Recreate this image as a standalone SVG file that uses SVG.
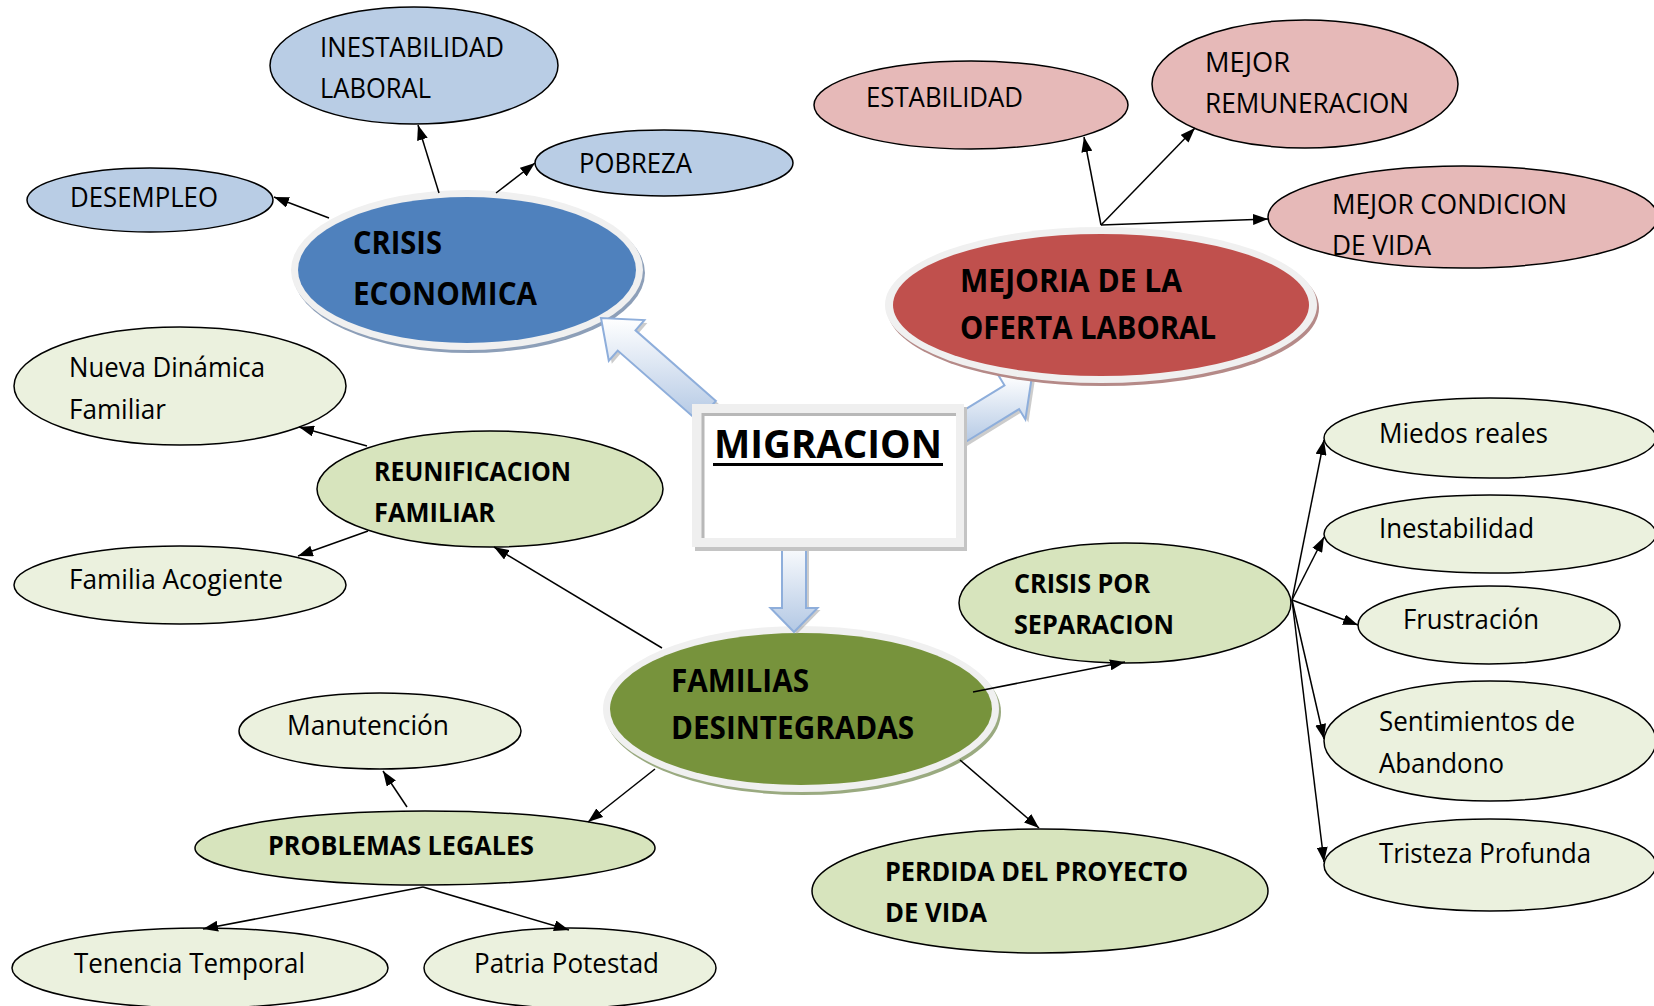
<svg xmlns="http://www.w3.org/2000/svg" width="1654" height="1006" viewBox="0 0 1654 1006">
<defs>
<style>
.t{font-family:"Open Sans","Noto Sans","DejaVu Sans",sans-serif;font-size:26.8px;fill:#000}
.b{font-weight:bold}
.big{font-size:31.3px;font-weight:bold}
.e{stroke:#000;stroke-width:1.5}
.lb{fill:#b9cde5}
.pk{fill:#e6b9b8}
.g2{fill:#d7e4bd}
.g3{fill:#ebf1de}
.rim{fill:#f0f0f0}
.con{stroke:#000;stroke-width:1.5;fill:none;marker-end:url(#ah)}
.blk{fill:url(#bg);stroke:#8eaedb;stroke-width:2}
.blksh{fill:#9a9a9a;opacity:0.5}
</style>
<marker id="ah" markerUnits="userSpaceOnUse" markerWidth="15" markerHeight="11" refX="15" refY="5.5" orient="auto"><path d="M0,0 L15,5.5 L0,11 z" fill="#000"/></marker>
<linearGradient id="bg" x1="0" y1="0" x2="0" y2="1"><stop offset="0" stop-color="#ffffff"/><stop offset="1" stop-color="#b3c8e4"/></linearGradient>
</defs>
<rect width="1654" height="1006" fill="#fff"/>

<g id="inestabilidad-laboral"><ellipse class="e lb" cx="414" cy="65.5" rx="144" ry="58.5"/><text class="t" x="320" y="57" textLength="184" lengthAdjust="spacingAndGlyphs">INESTABILIDAD</text><text class="t" x="320" y="98" textLength="111" lengthAdjust="spacingAndGlyphs">LABORAL</text></g>
<g id="pobreza"><ellipse class="e lb" cx="664" cy="163" rx="129" ry="33"/><text class="t" x="579" y="173" textLength="113" lengthAdjust="spacingAndGlyphs">POBREZA</text></g>
<g id="desempleo"><ellipse class="e lb" cx="150" cy="200" rx="123" ry="32"/><text class="t" x="70" y="207" textLength="148" lengthAdjust="spacingAndGlyphs">DESEMPLEO</text></g>
<g id="crisis-economica"><ellipse cx="469" cy="273" rx="176" ry="80" fill="#8d9fb8"/><ellipse class="rim" cx="467" cy="270" rx="176" ry="80"/><ellipse cx="467" cy="270" rx="169" ry="73" fill="#4f81bd"/><text class="t big" x="353" y="254" textLength="89" lengthAdjust="spacingAndGlyphs">CRISIS</text><text class="t big" x="353" y="305" textLength="184" lengthAdjust="spacingAndGlyphs">ECONOMICA</text></g>

<g id="estabilidad"><ellipse class="e pk" cx="971" cy="105" rx="157" ry="44"/><text class="t" x="866" y="107" textLength="157" lengthAdjust="spacingAndGlyphs">ESTABILIDAD</text></g>
<g id="mejor-remuneracion"><ellipse class="e pk" cx="1305" cy="84" rx="153" ry="64"/><text class="t" x="1205" y="72" textLength="85" lengthAdjust="spacingAndGlyphs">MEJOR</text><text class="t" x="1205" y="113" textLength="204" lengthAdjust="spacingAndGlyphs">REMUNERACION</text></g>
<g id="mejor-condicion"><ellipse class="e pk" cx="1463" cy="217" rx="195" ry="51"/><text class="t" x="1332" y="214" textLength="235" lengthAdjust="spacingAndGlyphs">MEJOR CONDICION</text><text class="t" x="1332" y="255" textLength="99" lengthAdjust="spacingAndGlyphs">DE VIDA</text></g>

<g id="block-arrow-mejoria">
<polygon class="blksh" transform="translate(3,3)" points="962.3,444 1019.1,409.1 1025.4,419.4 1032,376 998.2,375 1004.5,385.3 947.7,420.1"/>
<polygon class="blk" points="962.3,444 1019.1,409.1 1025.4,419.4 1032,376 998.2,375 1004.5,385.3 947.7,420.1"/>
</g>
<g id="mejoria-oferta-laboral"><ellipse cx="1103" cy="308" rx="216" ry="78" fill="#b58a88"/><ellipse class="rim" cx="1101" cy="305" rx="216" ry="78"/><ellipse cx="1101" cy="305" rx="208" ry="71" fill="#c0504d"/><text class="t big" x="960" y="292" textLength="222" lengthAdjust="spacingAndGlyphs">MEJORIA DE LA</text><text class="t big" x="960" y="339" textLength="256" lengthAdjust="spacingAndGlyphs">OFERTA LABORAL</text></g>

<g id="nueva-dinamica"><ellipse class="e g3" cx="180" cy="386" rx="166" ry="59"/><text class="t" x="69" y="377" textLength="196" lengthAdjust="spacingAndGlyphs">Nueva Dinámica</text><text class="t" x="69" y="419" textLength="97" lengthAdjust="spacingAndGlyphs">Familiar</text></g>
<g id="reunificacion-familiar"><ellipse class="e g2" cx="490" cy="489" rx="173" ry="58"/><text class="t b" x="374" y="481" textLength="197" lengthAdjust="spacingAndGlyphs">REUNIFICACION</text><text class="t b" x="374" y="522" textLength="121" lengthAdjust="spacingAndGlyphs">FAMILIAR</text></g>
<g id="familia-acogiente"><ellipse class="e g3" cx="180" cy="585" rx="166" ry="39"/><text class="t" x="69" y="589" textLength="214" lengthAdjust="spacingAndGlyphs">Familia Acogiente</text></g>

<g id="crisis-separacion"><ellipse class="e g2" cx="1125" cy="603" rx="166" ry="60"/><text class="t b" x="1014" y="593" textLength="136" lengthAdjust="spacingAndGlyphs">CRISIS POR</text><text class="t b" x="1014" y="634" textLength="160" lengthAdjust="spacingAndGlyphs">SEPARACION</text></g>
<g id="miedos-reales"><ellipse class="e g3" cx="1490" cy="438" rx="166" ry="40"/><text class="t" x="1379" y="443" textLength="169" lengthAdjust="spacingAndGlyphs">Miedos reales</text></g>
<g id="inestabilidad"><ellipse class="e g3" cx="1490" cy="534" rx="166" ry="39"/><text class="t" x="1379" y="538" textLength="155" lengthAdjust="spacingAndGlyphs">Inestabilidad</text></g>
<g id="frustracion"><ellipse class="e g3" cx="1489" cy="625" rx="131" ry="39"/><text class="t" x="1403" y="629" textLength="136" lengthAdjust="spacingAndGlyphs">Frustración</text></g>
<g id="sentimientos-abandono"><ellipse class="e g3" cx="1490" cy="741" rx="166" ry="60"/><text class="t" x="1379" y="731" textLength="196" lengthAdjust="spacingAndGlyphs">Sentimientos de</text><text class="t" x="1379" y="773" textLength="125" lengthAdjust="spacingAndGlyphs">Abandono</text></g>
<g id="tristeza-profunda"><ellipse class="e g3" cx="1490" cy="865" rx="166" ry="46"/><text class="t" x="1379" y="863" textLength="212" lengthAdjust="spacingAndGlyphs">Tristeza Profunda</text></g>

<g id="familias-desintegradas"><ellipse cx="803" cy="712" rx="198" ry="83" fill="#9aaa80"/><ellipse class="rim" cx="801" cy="709" rx="198" ry="83"/><ellipse cx="801" cy="709" rx="191" ry="76" fill="#77933c"/><text class="t big" x="671" y="692" textLength="138" lengthAdjust="spacingAndGlyphs">FAMILIAS</text><text class="t big" x="671" y="739" textLength="243" lengthAdjust="spacingAndGlyphs">DESINTEGRADAS</text></g>
<g id="manutencion"><ellipse class="e g3" cx="380" cy="731" rx="141" ry="38"/><text class="t" x="287" y="735" textLength="162" lengthAdjust="spacingAndGlyphs">Manutención</text></g>
<g id="problemas-legales"><ellipse class="e g2" cx="425" cy="848" rx="230" ry="37"/><text class="t b" x="268" y="855" textLength="266" lengthAdjust="spacingAndGlyphs">PROBLEMAS LEGALES</text></g>
<g id="tenencia-temporal"><ellipse class="e g3" cx="200" cy="968" rx="188" ry="40"/><text class="t" x="74" y="973" textLength="231" lengthAdjust="spacingAndGlyphs">Tenencia Temporal</text></g>
<g id="patria-potestad"><ellipse class="e g3" cx="570" cy="968" rx="146" ry="40"/><text class="t" x="474" y="973" textLength="185" lengthAdjust="spacingAndGlyphs">Patria Potestad</text></g>
<g id="perdida-proyecto"><ellipse class="e g2" cx="1040" cy="891" rx="228" ry="62"/><text class="t b" x="885" y="881" textLength="303" lengthAdjust="spacingAndGlyphs">PERDIDA DEL PROYECTO</text><text class="t b" x="885" y="922" textLength="102" lengthAdjust="spacingAndGlyphs">DE VIDA</text></g>

<g id="block-arrows">
<polygon class="blksh" transform="translate(3,3)" points="715.9,400.9 635.5,330.3 644.4,320.1 601,318 608.8,360.7 617.7,350.6 698.1,421.2"/>
<polygon class="blk" points="715.9,400.9 635.5,330.3 644.4,320.1 601,318 608.8,360.7 617.7,350.6 698.1,421.2"/>
<polygon class="blksh" transform="translate(3,2)" points="806,540 806,608 817.5,608 794,632 770.5,608 782,608 782,540"/>
<polygon class="blk" points="806,540 806,608 817.5,608 794,632 770.5,608 782,608 782,540"/>
</g>

<g id="migracion">
<rect x="695" y="407" width="272" height="144" fill="#c4c4c4"/>
<rect x="692" y="404" width="272" height="143" fill="#efefef"/>
<rect x="702" y="413" width="254" height="125" fill="#fff"/>
<path d="M703,538 V414.5 H956" stroke="#b8b8b8" stroke-width="3" fill="none"/>
<text class="t b" x="714" y="458" style="font-size:38.5px" textLength="228" lengthAdjust="spacingAndGlyphs">MIGRACION</text>
<line x1="713" y1="464.5" x2="943" y2="464.5" stroke="#000" stroke-width="3"/>
</g>

<g id="connectors">
<line class="con" x1="329" y1="218" x2="274" y2="197"/>
<line class="con" x1="439" y1="193" x2="418" y2="125"/>
<line class="con" x1="496" y1="193" x2="535" y2="163"/>
<line class="con" x1="1101" y1="225" x2="1084" y2="137"/>
<line class="con" x1="1101" y1="225" x2="1195" y2="128"/>
<line class="con" x1="1101" y1="225" x2="1268" y2="219"/>
<line class="con" x1="367" y1="446" x2="299" y2="427"/>
<line class="con" x1="368" y1="531" x2="298" y2="556"/>
<line class="con" x1="662" y1="648" x2="494" y2="547"/>
<line class="con" x1="973" y1="692" x2="1125" y2="662"/>
<line class="con" x1="655" y1="769" x2="588" y2="822"/>
<line class="con" x1="960" y1="760" x2="1039" y2="828"/>
<line class="con" x1="407" y1="807" x2="383" y2="771"/>
<line class="con" x1="423" y1="887" x2="203" y2="929"/>
<line class="con" x1="423" y1="887" x2="569" y2="930"/>
<line class="con" x1="1292" y1="600" x2="1324" y2="440"/>
<line class="con" x1="1292" y1="600" x2="1324" y2="537"/>
<line class="con" x1="1292" y1="600" x2="1358" y2="625"/>
<line class="con" x1="1292" y1="600" x2="1324" y2="739"/>
<line class="con" x1="1292" y1="600" x2="1324" y2="862"/>
</g>
</svg>
